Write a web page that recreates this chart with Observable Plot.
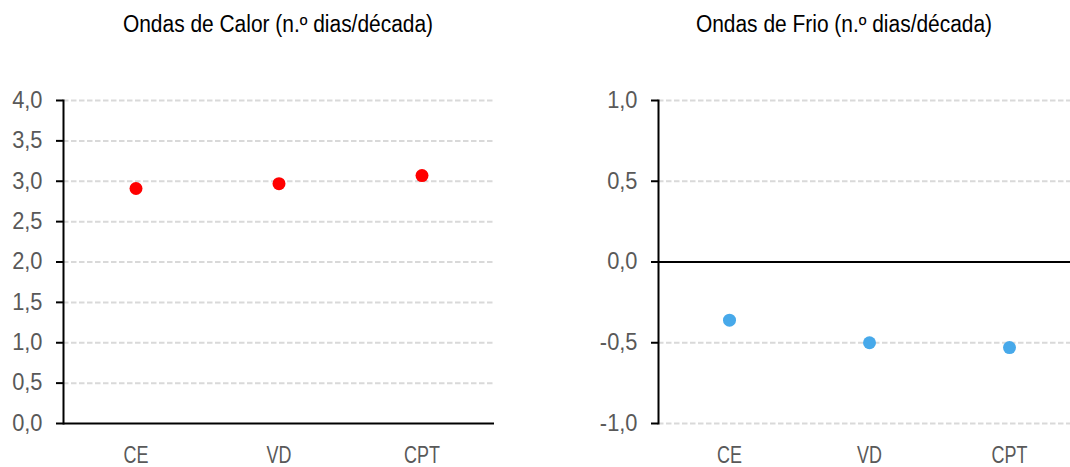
<!DOCTYPE html>
<html>
<head>
<meta charset="utf-8">
<script src="https://cdn.jsdelivr.net/npm/d3@7"></script>
<script src="https://cdn.jsdelivr.net/npm/@observablehq/plot@0.6"></script>
<style>
  html, body { margin: 0; padding: 0; background: #fff; }
  #wrap { position: relative; width: 1070px; height: 467px; overflow: hidden; font-family: "Liberation Sans", Arial, sans-serif; }
  .title { position: absolute; top: 11px; font-size: 23px; color: #000; white-space: nowrap; transform: translateX(-50%) scaleX(0.91); line-height: 1.2; }
  .panel { position: absolute; top: 0; height: 467px; }
  .panel svg { max-width: none !important; }
</style>
</head>
<body>
<div id="wrap">
  <div class="title" id="t1" style="left:278px">Ondas de Calor (n.º dias/década)</div>
  <div class="title" id="t2" style="left:844px">Ondas de Frio (n.º dias/década)</div>
  <div class="panel" id="p1" style="left:0px; width:535px"></div>
  <div class="panel" id="p2" style="left:535px; width:545px"></div>
</div>
<script>
const categories = ["CE", "VD", "CPT"];
const calorValues = [2.91, 2.97, 3.07];
const frioValues = [-0.36, -0.50, -0.53];
const calorTicks = [0, 0.5, 1, 1.5, 2, 2.5, 3, 3.5, 4];
const frioTicks = [-1, -0.5, 0, 0.5, 1];

const FONT = '"Liberation Sans", Arial, sans-serif';
const fmt = d => d.toFixed(1).replace(".", ",");
const calorData = categories.map((c, i) => ({cat: c, v: calorValues[i]}));
const frioData = categories.map((c, i) => ({cat: c, v: frioValues[i]}));

function squeeze(svg, selector, k) {
  d3.select(svg).selectAll(selector).each(function() {
    const t = this.getAttribute("transform") || "";
    this.setAttribute("transform", t + ` scale(${k},1)`);
  });
}

function panel(data, ticks, domain, color, opts) {
  const svg = Plot.plot({
    width: opts.width,
    height: 467,
    marginLeft: opts.marginLeft,
    marginRight: opts.marginRight,
    marginTop: 100,
    marginBottom: 44,
    style: {fontFamily: FONT, fontSize: "23px", overflow: "visible", background: "transparent"},
    x: {type: "band", domain: categories, paddingInner: 0, paddingOuter: 0, label: null},
    y: {domain: domain, label: null},
    marks: [
      Plot.gridY(ticks.filter(t => opts.gridFilter(t)), {stroke: "#d9d9d9", strokeOpacity: 1, strokeWidth: 2, strokeDasharray: "5.5,2.5"}),
      Plot.axisY(ticks, {tickSize: 7, tickPadding: 14, tickFormat: fmt, stroke: "#000", strokeWidth: 2, fill: "#595959", label: null}),
      Plot.axisX({tickSize: 0, tickPadding: 23, fill: "#595959", label: null}),
      Plot.ruleY([opts.baseline], {stroke: "#000", strokeWidth: 2}),
      Plot.frame({anchor: "left", stroke: "#000", strokeWidth: 2}),
      Plot.dot(data, {x: "cat", y: "v", r: 6.5, fill: color, stroke: null})
    ]
  });
  squeeze(svg, '[aria-label="y-axis tick label"] text', 0.95);
  squeeze(svg, '[aria-label="x-axis tick label"] text', 0.78);
  return svg;
}

document.getElementById("p1").appendChild(panel(calorData, calorTicks, [0, 4], "#ff0000", {
  width: 535, marginLeft: 63, marginRight: 41, baseline: 0, gridFilter: t => t !== 0
}));
document.getElementById("p2").appendChild(panel(frioData, frioTicks, [-1, 1], "#47a9ea", {
  width: 545, marginLeft: 123, marginRight: 0.5, baseline: 0, gridFilter: t => t !== 0
}));
</script>
</body>
</html>
